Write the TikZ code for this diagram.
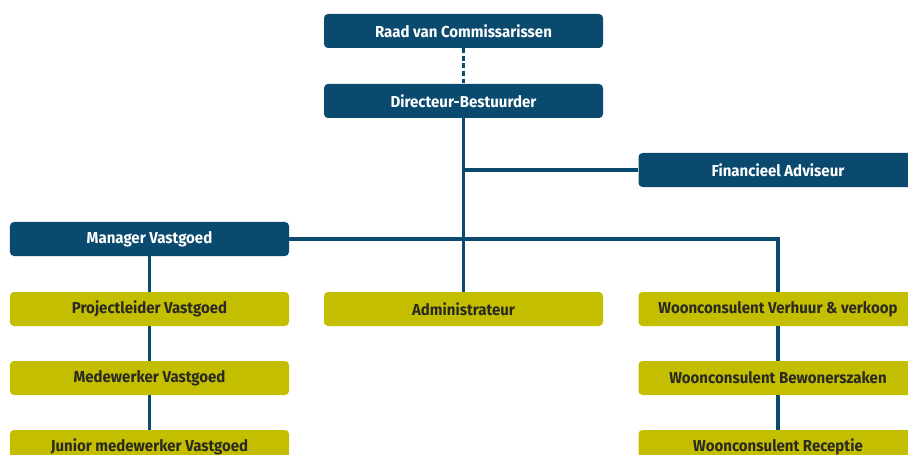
\documentclass[tikz,border=0pt]{standalone}
\usepackage{fontspec}
\setmainfont{Fira Sans}[FakeStretch=0.95]
\definecolor{bestuur}{HTML}{0B4A6F}
\definecolor{staf}{HTML}{C4BE00}
\definecolor{staftext}{HTML}{2A2A22}
\tikzset{
  leiding/.style={fill=bestuur, text=white, rounded corners=0.12cm,
    minimum width=8.37cm, minimum height=1.02cm, inner sep=0pt,
    font=\bfseries\fontsize{13.5}{15}\selectfont},
  medewerker/.style={leiding, fill=staf, text=staftext},
  lijn/.style={draw=bestuur, line width=3pt}
}
\begin{document}
\begin{tikzpicture}[x=0.03cm, y=-0.03cm]
      \useasboundingbox (0,0) rectangle (908,455);
      \clip (0,0) rectangle (908,455);
      \draw
        (463.5,31) node[leiding] (raad){Raad van Commissarissen}
        (463.5,101) node[leiding] (dir){Directeur-Bestuurder}
        (778,170) node[leiding] (fin){Financieel Adviseur}
        (149.5,239) node[leiding] (mgr){Manager Vastgoed}
        (149.5,309) node[medewerker] (proj){Projectleider Vastgoed}
        (463.5,309) node[medewerker] (adm){Administrateur}
        (778,309) node[medewerker] (verh){Woonconsulent Verhuur \& verkoop}
        (149.5,378) node[medewerker] (mede){Medewerker Vastgoed}
        (778,378) node[medewerker] (bew){Woonconsulent Bewonerszaken}
        (149.5,447) node[medewerker] (jun){Junior medewerker Vastgoed}
        (778,447) node[medewerker] (rec){Woonconsulent Receptie};
      \begin{scope}[lijn]
        \draw[dash pattern=on 4pt off 2.5pt] (raad) to (dir);
        \draw (dir) to (adm);
        \draw (dir.south) |- (fin.west);
        \draw (mgr.east) -| (verh.north);
        \draw (mgr) to (proj);
        \draw (proj) to (mede);
        \draw (mede) to (jun);
        \draw (verh) to (bew);
        \draw (bew) to (rec);
      \end{scope}
    \end{tikzpicture}
\end{document}
